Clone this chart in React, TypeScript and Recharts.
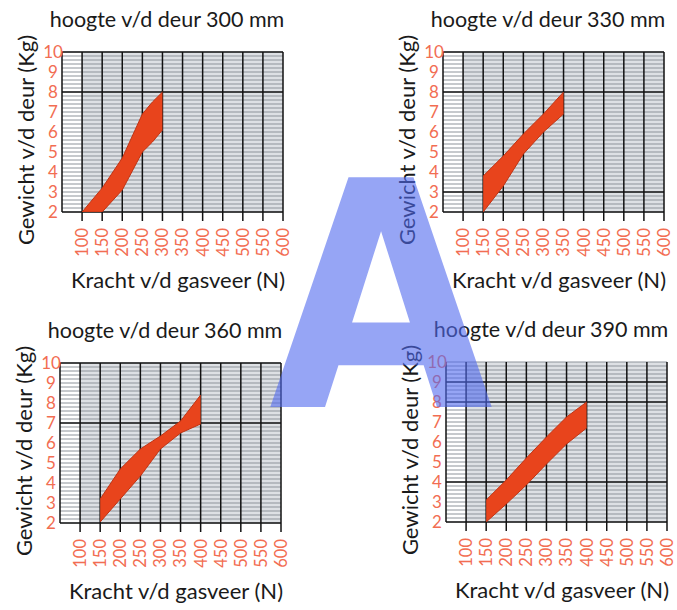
import React from 'react';
import { ComposedChart, Area, XAxis, YAxis, CartesianGrid, Label } from 'recharts';

// ---- tick values ----
const forceTicks = [100, 150, 200, 250, 300, 350, 400, 450, 500, 550, 600];
const weightTicks = [2, 3, 4, 5, 6, 7, 8, 9, 10];
const minorWeightTicks = [
  2, 2.2, 2.4, 2.6, 2.8, 3, 3.2, 3.4, 3.6, 3.8, 4, 4.2, 4.4, 4.6, 4.8, 5, 5.2, 5.4, 5.6, 5.8,
  6, 6.2, 6.4, 6.6, 6.8, 7, 7.2, 7.4, 7.6, 7.8, 8, 8.2, 8.4, 8.6, 8.8, 9, 9.2, 9.4, 9.6, 9.8, 10,
];
const weightDomain = [2, 10];

// ---- texts ----
const titles = ['hoogte v/d deur 300 mm', 'hoogte v/d deur 330 mm', 'hoogte v/d deur 360 mm', 'hoogte v/d deur 390 mm'];
const xLabelText = 'Kracht v/d gasveer (N)';
const yLabelText = 'Gewicht v/d deur (Kg)';
const watermark = 'A';

// ---- band data (force N -> weight kg range) ----
const force300 = [100, 150, 200, 250, 275, 300];
const low300 = [2, 2, 3.1, 5.0, 5.5, 6.1];
const high300 = [2, 3.2, 4.7, 6.9, 7.5, 8.0];

const force330 = [150, 200, 250, 300, 350];
const low330 = [2, 3.3, 4.9, 6.0, 6.9];
const high330 = [3.8, 4.8, 5.9, 6.9, 8.0];

const force360 = [150, 200, 250, 300, 350, 400];
const low360 = [2.05, 3.2, 4.35, 5.7, 6.5, 6.95];
const high360 = [3.2, 4.7, 5.7, 6.35, 7.1, 8.4];

const force390 = [150, 200, 250, 300, 350, 400];
const low390 = [2, 2.9, 3.85, 4.9, 5.9, 6.7];
const high390 = [3.1, 4.1, 5.2, 6.25, 7.25, 8.0];

// darker horizontal lines as seen in each panel (bottom line at 2 included)
const dark300 = [10, 8, 2];
const dark330 = [10, 8, 3, 2];
const dark360 = [10, 7, 2];
const dark390 = [9, 8, 4, 2];

const ORANGE = '#f26d52';
const BAND = '#e8441c';
const FONT = 'Lato, "Open Sans", sans-serif';

const XTick = (props: any) => {
  const { x, y, payload } = props;
  return (
    <text
      x={x}
      y={y + 5}
      transform={`rotate(-90, ${x}, ${y + 5})`}
      textAnchor="end"
      dy="0.36em"
      fill={ORANGE}
      fontSize={16.5}
      fontFamily={FONT}
    >
      {payload.value}
    </text>
  );
};

const YTick = (props: any) => {
  const { x, y, payload } = props;
  return (
    <text x={x - 1} y={y} textAnchor="middle" dy="0.36em" fill={ORANGE} fontSize={17} fontFamily={FONT}>
      {payload.value}
    </text>
  );
};

const XLabelContent = (props: any) => {
  const vb = props.viewBox || {};
  return (
    <text x={vb.x + 116} y={vb.y + 76} textAnchor="middle" fill="#1a1a1a" fontSize={22} fontFamily={FONT}>
      {xLabelText}
    </text>
  );
};

const YLabelContent = (props: any) => {
  const vb = props.viewBox || {};
  const cx = vb.x + vb.width - 36;
  const cy = vb.y + 88;
  return (
    <text
      x={cx}
      y={cy}
      transform={`rotate(-90, ${cx}, ${cy})`}
      textAnchor="middle"
      dy="0.36em"
      fill="#1a1a1a"
      fontSize={22}
      fontFamily={FONT}
    >
      {yLabelText}
    </text>
  );
};

// horizontal grid lines through the y axis' scale (fallback: axis domain mapped on the plot box)
const linesAt = (values: number[]) => (p: any) => {
  const sc = p && p.yAxis && p.yAxis.scale;
  if (typeof sc === 'function') return values.map((v) => sc(v));
  if (sc && typeof sc.map === 'function') return values.map((v) => sc.map(v));
  const off = (p && p.offset) || {};
  const t = off.top ?? 0;
  const h = off.height ?? 0;
  return values.map((v) => t + h * (1 - (v - weightDomain[0]) / (weightDomain[1] - weightDomain[0])));
};
const minorLines = linesAt(minorWeightTicks);

type PanelProps = {
  left: number;
  top: number;
  title: string;
  force: number[];
  low: number[];
  high: number[];
  dark: number[];
};

const stripeFill = ['#ffffff', '#dde0e4', '#dde0e4', '#dde0e4', '#dde0e4', '#dde0e4', '#dde0e4', '#dde0e4', '#dde0e4', '#dde0e4', '#dde0e4'];

const Panel = ({ left, top, title, force, low, high, dark }: PanelProps) => {
  const data = force.map((f, i) => ({ force: f, band: [low[i], high[i]] }));
  return (
    <>
      <div
        style={{
          position: 'absolute',
          left: left - 45,
          width: 300,
          top: top - 25 - 21.2,
          textAlign: 'center',
          fontFamily: FONT,
          fontSize: 21.5,
          lineHeight: '26px',
          color: '#1a1a1a',
          whiteSpace: 'nowrap',
        }}
      >
        {title}
      </div>
      <div style={{ position: 'absolute', left: left - 62, top: top - 52 }}>
        <ComposedChart width={293} height={294} data={data} margin={{ top: 52, right: 10, bottom: 0, left: 0 }}>
          <XAxis
            type="number"
            dataKey="force"
            domain={[50, 600]}
            ticks={forceTicks}
            interval={0}
            allowDataOverflow
            height={82}
            axisLine={false}
            tickLine={{ stroke: '#111', strokeWidth: 1.5 }}
            tickSize={9}
            tick={<XTick />}
          >
            <Label content={<XLabelContent />} />
          </XAxis>
          <YAxis
            type="number"
            domain={weightDomain}
            ticks={weightTicks}
            interval={0}
            allowDataOverflow
            width={62}
            axisLine={false}
            tickLine={false}
            tick={<YTick />}
          >
            <Label content={<YLabelContent />} />
          </YAxis>
          <CartesianGrid horizontal={false} vertical={true} verticalFill={stripeFill} fillOpacity={1} stroke="none" />
          <CartesianGrid
            vertical={false}
            horizontal={true}
            horizontalCoordinatesGenerator={minorLines}
            stroke="#8d939a"
            strokeWidth={1}
          />
          <CartesianGrid
            vertical={false}
            horizontal={true}
            horizontalCoordinatesGenerator={linesAt(dark)}
            stroke="#1a1a1a"
            strokeWidth={1.4}
          />
          <CartesianGrid horizontal={false} vertical={true} stroke="#111" strokeWidth={1.5} />
          <Area
            type="linear"
            dataKey="band"
            fill={BAND}
            fillOpacity={1}
            stroke="#c03414"
            strokeWidth={1}
            isAnimationActive={false}
          />
        </ComposedChart>
      </div>
    </>
  );
};

export default function App() {
  return (
    <div style={{ position: 'absolute', left: 0, top: 0, width: 677, height: 610, overflow: 'hidden', background: '#fff' }}>
      <Panel left={62} top={52} title={titles[0]} force={force300} low={low300} high={high300} dark={dark300} />
      <Panel left={443} top={52} title={titles[1]} force={force330} low={low330} high={high330} dark={dark330} />
      <Panel left={60} top={363} title={titles[2]} force={force360} low={low360} high={high360} dark={dark360} />
      <Panel left={446} top={362} title={titles[3]} force={force390} low={low390} high={high390} dark={dark390} />
      <svg width={677} height={610} style={{ position: 'absolute', left: 0, top: 0, pointerEvents: 'none' }}>
        <text
          x={0}
          y={407}
          transform="translate(381,0) scale(0.92,1)"
          textAnchor="middle"
          fontFamily="DejaVu Sans"
          fontWeight="bold"
          fontSize={315}
          fill="rgb(80,105,238)"
          fillOpacity={0.6}
        >
          {watermark}
        </text>
      </svg>
    </div>
  );
}
